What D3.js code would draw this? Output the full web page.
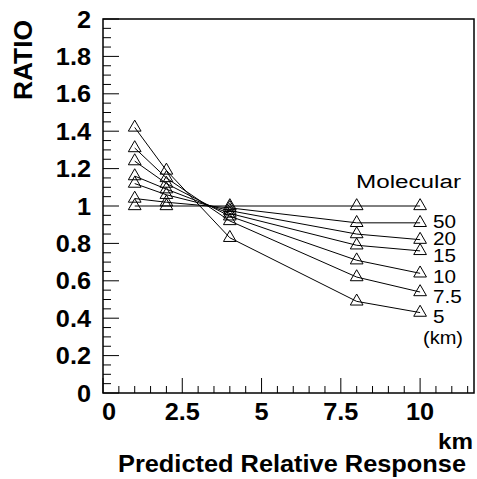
<!DOCTYPE html>
<html>
<head>
<meta charset="utf-8">
<script src="https://cdn.jsdelivr.net/npm/d3@7"></script>
<style>
  body { margin: 0; background: #fff; }
  text { font-family: "Liberation Sans", Arial, sans-serif; }
</style>
</head>
<body>
<svg width="477" height="479"></svg>
<script>
// altitude in km at which ratio is computed
const distances = [1, 2, 4, 8, 10];
const seriesNames = ["Molecular", "50", "20", "15", "10", "7.5", "5"];
const molecular = [1.0, 1.0, 1.0, 1.0, 1.0];
const s50 = [1.04, 1.02, 0.99, 0.91, 0.91];
const s20 = [1.12, 1.06, 0.975, 0.85, 0.82];
const s15 = [1.16, 1.09, 0.96, 0.79, 0.76];
const s10 = [1.24, 1.12, 0.945, 0.71, 0.64];
const s75 = [1.31, 1.15, 0.92, 0.62, 0.54];
const s5 = [1.42, 1.19, 0.83, 0.49, 0.43];
const yTicks = [0, 0.2, 0.4, 0.6, 0.8, 1, 1.2, 1.4, 1.6, 1.8, 2];
const xTicks = [0, 2.5, 5, 7.5, 10];

const allSeries = [molecular, s50, s20, s15, s10, s75, s5];

const svg = d3.select("svg");
const margin = { left: 103, right: 3, top: 19, bottom: 86 };
const width = 477, height = 479;

const x = d3.scaleLinear().domain([0, 11.7]).range([margin.left, width - margin.right]);
const y = d3.scaleLinear().domain([0, 2]).range([height - margin.bottom, margin.top]);

// minor ticks
const g = svg.append("g");
g.selectAll(".xminor")
  .data(d3.range(0, 11.7, 0.5))
  .enter().append("line")
  .attr("x1", d => x(d)).attr("x2", d => x(d))
  .attr("y1", y(0)).attr("y2", d => y(0) - (xTicks.includes(d) ? 15 : 7))
  .attr("stroke", "#000").attr("stroke-width", 1);

g.selectAll(".yminor")
  .data(d3.range(0, 2.001, 0.05))
  .enter().append("line")
  .attr("y1", d => y(d)).attr("y2", d => y(d))
  .attr("x1", x(0))
  .attr("x2", d => x(0) + (Math.abs(Math.round(d * 5) - d * 5) < 1e-6 ? 16 : 8))
  .attr("stroke", "#000").attr("stroke-width", 1);

// frame
svg.append("rect")
  .attr("x", x(0)).attr("y", y(2))
  .attr("width", x(11.7) - x(0)).attr("height", y(0) - y(2))
  .attr("fill", "none").attr("stroke", "#000").attr("stroke-width", 1.5);

// tick labels
svg.selectAll(".ylab")
  .data(yTicks)
  .enter().append("text")
  .attr("transform", d => `translate(91,${y(d) + 8.5}) scale(1.1,1)`)
  .attr("text-anchor", "end")
  .style("font-size", "23px").style("font-weight", "bold")
  .text(d => d);

svg.selectAll(".xlab")
  .data(xTicks)
  .enter().append("text")
  .attr("transform", d => `translate(${x(d) + (d === 0 ? 6 : 0)},420) scale(1.1,1)`)
  .attr("text-anchor", "middle")
  .style("font-size", "23px").style("font-weight", "bold")
  .text(d => d);

// lines
const line = d3.line()
  .x((d, i) => x(distances[i]))
  .y(d => y(d));

allSeries.forEach(vals => {
  svg.append("path")
    .datum(vals)
    .attr("fill", "none")
    .attr("stroke", "#000")
    .attr("stroke-width", 1)
    .attr("d", line);
});

const tri = d3.symbol().type(d3.symbolTriangle).size(70);
allSeries.forEach(vals => {
  svg.selectAll(null)
    .data(vals)
    .enter().append("path")
    .attr("d", tri)
    .attr("transform", (d, i) => `translate(${x(distances[i])},${y(d)})`)
    .attr("fill", "none")
    .attr("stroke", "#000")
    .attr("stroke-width", 1);
});

// series labels
svg.append("text")
  .attr("x", 356).attr("y", 188)
  .attr("textLength", 105).attr("lengthAdjust", "spacingAndGlyphs")
  .style("font-size", "18px")
  .text(seriesNames[0]);

const labelY = [228, 245, 262, 283, 303, 323];
seriesNames.slice(1).forEach((name, i) => {
  svg.append("text")
    .attr("transform", `translate(433,${labelY[i]}) scale(1.15,1)`)
    .style("font-size", "18px")
    .text(name);
});
svg.append("text")
  .attr("x", 423).attr("y", 344)
  .attr("textLength", 40).attr("lengthAdjust", "spacingAndGlyphs")
  .style("font-size", "18px")
  .text("(km)");

// axis titles
svg.append("text")
  .attr("transform", "translate(32,20) rotate(-90)")
  .attr("text-anchor", "end")
  .attr("textLength", 80).attr("lengthAdjust", "spacingAndGlyphs")
  .style("font-size", "25px").style("font-weight", "bold")
  .text("RATIO");

svg.append("text")
  .attr("transform", "translate(473,449) scale(1.1,1)")
  .attr("text-anchor", "end")
  .style("font-size", "22px").style("font-weight", "bold")
  .text("km");

svg.append("text")
  .attr("x", 118).attr("y", 472)
  .attr("textLength", 348).attr("lengthAdjust", "spacingAndGlyphs")
  .style("font-size", "23px").style("font-weight", "bold")
  .text("Predicted Relative Response");
</script>
</body>
</html>
